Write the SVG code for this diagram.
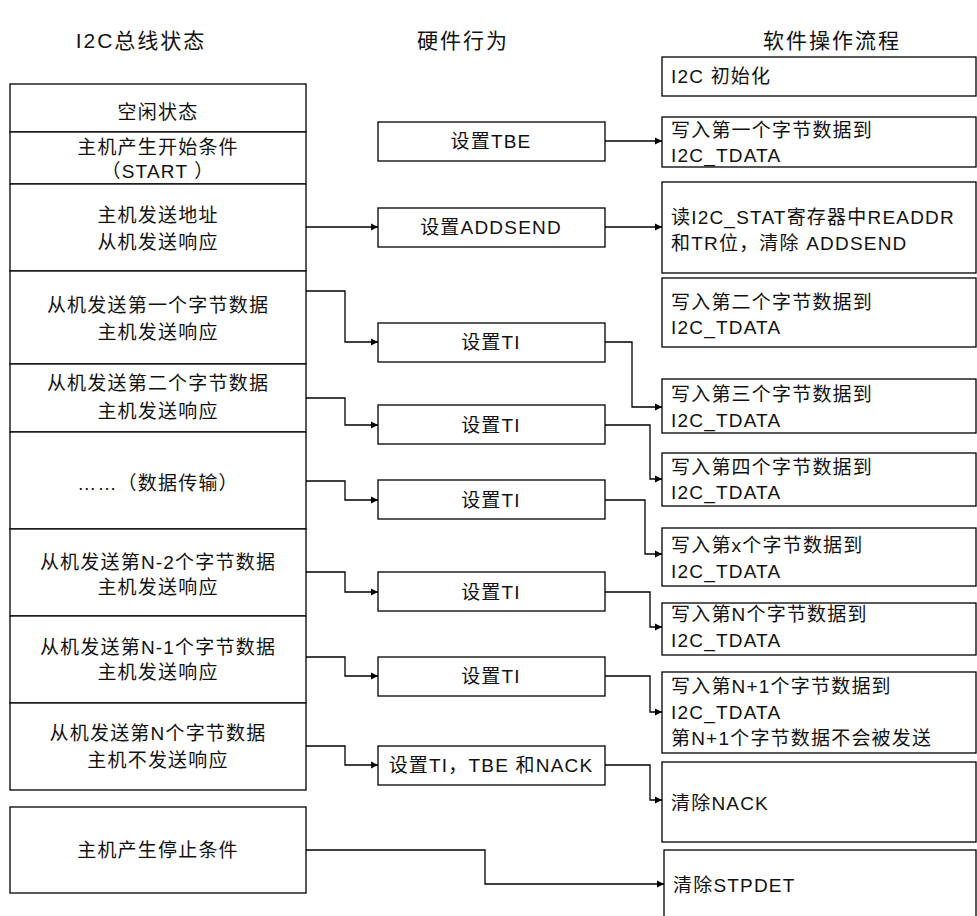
<svg xmlns="http://www.w3.org/2000/svg" width="977" height="916" viewBox="0 0 977 916">
<defs>
<marker id="arr" markerWidth="8" markerHeight="8" refX="7" refY="4" orient="auto" markerUnits="userSpaceOnUse">
<path d="M0,0.5 L7,4 L0,7.5 z" fill="#000"/>
</marker>
<style>
rect{fill:#fff;stroke:#000;stroke-width:1.3}
text{font-family:"Liberation Sans","Noto Sans CJK SC",sans-serif;font-size:19px;letter-spacing:1.2px;fill:#111;dominant-baseline:central}
.c{text-anchor:middle}
.h{font-size:21px;letter-spacing:2px;text-anchor:middle}
#connectors path{fill:none;stroke:#000;stroke-width:1.3;marker-end:url(#arr)}
</style>
</defs>
<rect x="0" y="0" width="977" height="916" style="stroke:none"/>
<g id="headers">
<text class="h" x="141" y="40">I2C总线状态</text>
<text class="h" x="463" y="40">硬件行为</text>
<text class="h" x="832" y="40">软件操作流程</text>
</g>
<g id="bus">
<g id="s-idle"><rect x="10" y="84" width="296" height="48"/><text class="c" x="158" y="112">空闲状态</text></g>
<g id="s-start"><rect x="10" y="132" width="296" height="52"/><text class="c" x="158" y="147">主机产生开始条件</text><text class="c" x="158" y="171">（START ）</text></g>
<g id="s-addr"><rect x="10" y="184" width="296" height="87"/><text class="c" x="158" y="215">主机发送地址</text><text class="c" x="158" y="242">从机发送响应</text></g>
<g id="s-b1"><rect x="10" y="271" width="296" height="93"/><text class="c" x="158" y="305">从机发送第一个字节数据</text><text class="c" x="158" y="332">主机发送响应</text></g>
<g id="s-b2"><rect x="10" y="364" width="296" height="68"/><text class="c" x="158" y="383">从机发送第二个字节数据</text><text class="c" x="158" y="411">主机发送响应</text></g>
<g id="s-data"><rect x="10" y="432" width="296" height="97"/><text class="c" x="158" y="483">……（数据传输）</text></g>
<g id="s-n2"><rect x="10" y="529" width="296" height="87"/><text class="c" x="158" y="562">从机发送第N-2个字节数据</text><text class="c" x="158" y="587">主机发送响应</text></g>
<g id="s-n1"><rect x="10" y="616" width="296" height="87"/><text class="c" x="158" y="647">从机发送第N-1个字节数据</text><text class="c" x="158" y="672">主机发送响应</text></g>
<g id="s-n"><rect x="10" y="703" width="296" height="87"/><text class="c" x="158" y="733">从机发送第N个字节数据</text><text class="c" x="158" y="760">主机不发送响应</text></g>
<g id="s-stop"><rect x="10" y="807" width="296" height="86"/><text class="c" x="158" y="850">主机产生停止条件</text></g>
</g>
<g id="hw">
<g id="h-tbe"><rect x="378" y="122" width="227" height="39"/><text class="c" x="491" y="141">设置TBE</text></g>
<g id="h-addsend"><rect x="378" y="208" width="227" height="39"/><text class="c" x="491" y="227">设置ADDSEND</text></g>
<g id="h-ti1"><rect x="378" y="323" width="227" height="39"/><text class="c" x="491" y="342">设置TI</text></g>
<g id="h-ti2"><rect x="378" y="405" width="227" height="39"/><text class="c" x="491" y="425">设置TI</text></g>
<g id="h-ti3"><rect x="378" y="480" width="227" height="39"/><text class="c" x="491" y="500">设置TI</text></g>
<g id="h-ti4"><rect x="378" y="572" width="227" height="39"/><text class="c" x="491" y="592">设置TI</text></g>
<g id="h-ti5"><rect x="378" y="657" width="227" height="39"/><text class="c" x="491" y="676">设置TI</text></g>
<g id="h-nack"><rect x="378" y="746" width="227" height="39"/><text class="c" x="491" y="765">设置TI，TBE 和NACK</text></g>
</g>
<g id="sw">
<g id="w-init"><rect x="662" y="57" width="314" height="39"/><text x="671" y="76">I2C 初始化</text></g>
<g id="w-1"><rect x="662" y="117" width="314" height="50"/><text x="671" y="130">写入第一个字节数据到</text><text x="671" y="155">I2C_TDATA</text></g>
<g id="w-stat"><rect x="662" y="182" width="314" height="91"/><text x="671" y="217">读I2C_STAT寄存器中READDR</text><text x="671" y="243">和TR位，清除 ADDSEND</text></g>
<g id="w-2"><rect x="662" y="278" width="314" height="69"/><text x="671" y="302">写入第二个字节数据到</text><text x="671" y="327">I2C_TDATA</text></g>
<g id="w-3"><rect x="662" y="379" width="314" height="54"/><text x="671" y="394">写入第三个字节数据到</text><text x="671" y="420">I2C_TDATA</text></g>
<g id="w-4"><rect x="662" y="453" width="314" height="53"/><text x="671" y="467">写入第四个字节数据到</text><text x="671" y="492">I2C_TDATA</text></g>
<g id="w-x"><rect x="662" y="528" width="314" height="58"/><text x="671" y="545">写入第x个字节数据到</text><text x="671" y="571">I2C_TDATA</text></g>
<g id="w-n"><rect x="662" y="603" width="314" height="52"/><text x="671" y="614">写入第N个字节数据到</text><text x="671" y="640">I2C_TDATA</text></g>
<g id="w-n1"><rect x="662" y="672" width="314" height="81"/><text x="671" y="686">写入第N+1个字节数据到</text><text x="671" y="712">I2C_TDATA</text><text x="671" y="738">第N+1个字节数据不会被发送</text></g>
<g id="w-nack"><rect x="662" y="762" width="314" height="80"/><text x="671" y="803">清除NACK</text></g>
<g id="w-stpdet"><rect x="664" y="850" width="312" height="80"/><text x="673" y="885">清除STPDET</text></g>
</g>
<g id="connectors">
<path d="M605,141 H662"/>
<path d="M306,227 H378"/>
<path d="M605,227 H662"/>
<path d="M306,291 H345 V342 H378"/>
<path d="M605,342 H632 V407 H662"/>
<path d="M306,398 H345 V425 H378"/>
<path d="M605,425 H650 V479 H662"/>
<path d="M306,481 H345 V500 H378"/>
<path d="M605,500 H645 V554 H662"/>
<path d="M306,572 H345 V592 H378"/>
<path d="M605,592 H650 V627 H662"/>
<path d="M306,657 H345 V676 H378"/>
<path d="M605,676 H650 V712 H662"/>
<path d="M306,746 H345 V765 H378"/>
<path d="M605,765 H650 V800 H662"/>
<path d="M306,850 H485 V884 H664"/>
</g>
</svg>
